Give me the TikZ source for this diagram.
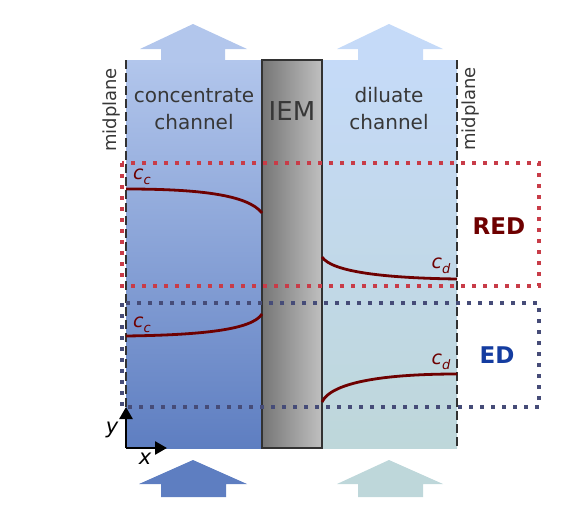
\documentclass[tikz,border=0pt]{standalone}
\usepackage{fontspec}
\setmainfont{DejaVu Sans}
\usetikzlibrary{arrows.meta}
\definecolor{concTop}{RGB}{178,198,236}
\definecolor{concBot}{RGB}{94,126,193}
\definecolor{dilTop}{RGB}{197,218,248}
\definecolor{dilBot}{RGB}{190,215,218}
\definecolor{iemL}{RGB}{118,118,118}
\definecolor{iemR}{RGB}{192,192,192}
\definecolor{iemB}{RGB}{50,50,50}
\definecolor{curveC}{RGB}{110,0,0}
\definecolor{redDot}{RGB}{200,60,72}
\definecolor{navyDot}{RGB}{70,76,120}
\definecolor{edText}{RGB}{20,60,160}
\definecolor{txtGray}{RGB}{55,55,55}
\tikzset{
  midline/.style={draw=iemB, line width=2.6pt, dash pattern=on 9pt off 4pt},
  redbox/.style={draw=redDot, line width=3.6pt, dash pattern=on 3.6pt off 7.4pt},
  edbox/.style={draw=navyDot, line width=3.6pt, dash pattern=on 3.6pt off 7.4pt},
  profile/.style={draw=curveC, line width=2.8pt},
  chtext/.style={text=txtGray, font=\fontsize{20}{27}\selectfont, align=center, inner sep=0pt},
  midtext/.style={text=txtGray, font=\fontsize{18}{20}\selectfont, rotate=90, inner sep=0pt},
  clabel/.style={text=curveC, font=\fontsize{19}{19}\selectfont\itshape, inner sep=0pt},
  axis/.style={draw=black, line width=2.6pt, -{Triangle[length=12pt,width=13pt]}},
}
\newcommand{\subl}[2]{#1\raisebox{-0.45ex}{\fontsize{13}{13}\selectfont #2}}
\begin{document}
\begin{tikzpicture}[x=1pt,y=-1pt]
\useasboundingbox (0,0) rectangle (582,517);
% channels
\shade[top color=concTop, bottom color=concBot] (126,60) rectangle (262,448);
\shade[top color=dilTop, bottom color=dilBot] (322,60) rectangle (457,448);
\node[inner sep=0pt, minimum width=136pt, minimum height=388pt] (conc) at (194,254) {};
\node[inner sep=0pt, minimum width=135pt, minimum height=388pt] (dil) at (389.5,254) {};
% flow arrows
\fill[concTop] (161,60) -- (161,49) -- (140,49) -- (193,24) -- (247,49) -- (225,49) -- (225,60) -- cycle;
\fill[dilTop] (358,60) -- (358,49) -- (337,49) -- (389,24) -- (443,49) -- (423,49) -- (423,60) -- cycle;
\fill[concBot] (161,497) -- (161,484) -- (139,484) -- (193,460) -- (247,484) -- (226,484) -- (226,497) -- cycle;
\fill[dilBot] (358,497) -- (358,484) -- (337,484) -- (389,460) -- (443,484) -- (423,484) -- (423,497) -- cycle;
% IEM
\shade[left color=iemL, right color=iemR] (262,60) rectangle (322,448);
\draw[iemB, line width=2.6pt] (262,60) rectangle (322,448);
\node[inner sep=0pt, text=txtGray, font=\fontsize{26}{26}\selectfont] (iem) at (292,111) {IEM};
% midplanes
\coordinate (mlT) at (126,60); \coordinate (mlB) at (126,448);
\coordinate (mrT) at (457,60); \coordinate (mrB) at (457,448);
\draw[midline] (mlT) -- (mlB);
\draw[midline] (mrT) -- (mrB);
\node[midtext] (midL) at (111.5,110) {midplane};
\node[midtext] (midR) at (471,109) {midplane};
% channel texts
\node[chtext] (ctext) at (194,109) {concentrate\\channel};
\node[chtext] (dtext) at (389,109) {diluate\\channel};
% boxes
\draw[redbox] (122,163) rectangle (539,286);
\draw[edbox] (122,303) rectangle (539,407);
% profiles
\coordinate (r1a) at (126,189); \coordinate (r1b) at (262,213);
\coordinate (r2a) at (322,257); \coordinate (r2b) at (457,279);
\coordinate (e1a) at (126,336); \coordinate (e1b) at (262,314);
\coordinate (e2a) at (322,402); \coordinate (e2b) at (457,374);
\draw[profile] (r1a) .. controls (200,189) and (248,195) .. (r1b);
\draw[profile] (r2a) .. controls (332,272) and (385,278) .. (r2b);
\draw[profile] (e1a) .. controls (200,335) and (252,330) .. (e1b);
\draw[profile] (e2a) .. controls (332,381) and (390,374) .. (e2b);
\node[clabel] (cc1) at (142,177) {\subl{c}{c}};
\node[clabel] (cc2) at (142,325) {\subl{c}{c}};
\node[clabel] (cd1) at (441,266) {\subl{c}{d}};
\node[clabel] (cd2) at (441,362) {\subl{c}{d}};
% labels
\node[inner sep=0pt, text=curveC, font=\fontsize{23}{23}\selectfont\bfseries] (red) at (499,226) {RED};
\node[inner sep=0pt, text=edText, font=\fontsize{23}{23}\selectfont\bfseries] (ed) at (497,355) {ED};
% axes
\coordinate (org) at (126,448);
\coordinate (yt) at (126,407);
\coordinate (xt) at (167,448);
\draw[axis] (org) -- (yt);
\draw[axis] (org) -- (xt);
\node[inner sep=0pt, font=\fontsize{21}{21}\selectfont\itshape] (ylab) at (112,430) {y};
\node[inner sep=0pt, font=\fontsize{21}{21}\selectfont\itshape] (xlab) at (145,459) {x};
\end{tikzpicture}
\end{document}
